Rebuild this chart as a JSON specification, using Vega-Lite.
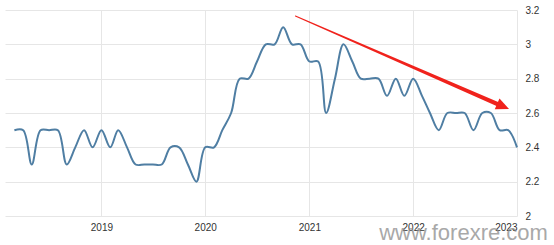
{
  "$schema": "https://vega.github.io/schema/vega-lite/v6.json",
  "width": 512,
  "height": 206,
  "autosize": {"type": "none"},
  "padding": {"left": 5, "top": 10, "right": 37, "bottom": 29},
  "background": "white",
  "config": {
    "view": {"stroke": null},
    "axis": {"labelFont": "Liberation Sans", "labelFontSize": 10, "labelColor": "#333333", "gridColor": "#e6e6e6", "gridWidth": 1, "domain": false, "ticks": false, "title": null}
  },
  "datasets": {
    "series": [
      {"date": "2018-03-01", "value": 2.5},
      {"date": "2018-04-01", "value": 2.5},
      {"date": "2018-05-01", "value": 2.3},
      {"date": "2018-06-01", "value": 2.5},
      {"date": "2018-07-01", "value": 2.5},
      {"date": "2018-08-01", "value": 2.5},
      {"date": "2018-09-01", "value": 2.3},
      {"date": "2018-10-01", "value": 2.4},
      {"date": "2018-11-01", "value": 2.5},
      {"date": "2018-12-01", "value": 2.4},
      {"date": "2019-01-01", "value": 2.5},
      {"date": "2019-02-01", "value": 2.4},
      {"date": "2019-03-01", "value": 2.5},
      {"date": "2019-04-01", "value": 2.4},
      {"date": "2019-05-01", "value": 2.3},
      {"date": "2019-06-01", "value": 2.3},
      {"date": "2019-07-01", "value": 2.3},
      {"date": "2019-08-01", "value": 2.3},
      {"date": "2019-09-01", "value": 2.4},
      {"date": "2019-10-01", "value": 2.4},
      {"date": "2019-11-01", "value": 2.3},
      {"date": "2019-12-01", "value": 2.2},
      {"date": "2020-01-01", "value": 2.4},
      {"date": "2020-02-01", "value": 2.4},
      {"date": "2020-03-01", "value": 2.5},
      {"date": "2020-04-01", "value": 2.6},
      {"date": "2020-05-01", "value": 2.8},
      {"date": "2020-06-01", "value": 2.8},
      {"date": "2020-07-01", "value": 2.9},
      {"date": "2020-08-01", "value": 3.0},
      {"date": "2020-09-01", "value": 3.0},
      {"date": "2020-10-01", "value": 3.1},
      {"date": "2020-11-01", "value": 3.0},
      {"date": "2020-12-01", "value": 3.0},
      {"date": "2021-01-01", "value": 2.9},
      {"date": "2021-02-01", "value": 2.9},
      {"date": "2021-03-01", "value": 2.6},
      {"date": "2021-04-01", "value": 2.8},
      {"date": "2021-05-01", "value": 3.0},
      {"date": "2021-06-01", "value": 2.9},
      {"date": "2021-07-01", "value": 2.8},
      {"date": "2021-08-01", "value": 2.8},
      {"date": "2021-09-01", "value": 2.8},
      {"date": "2021-10-01", "value": 2.7},
      {"date": "2021-11-01", "value": 2.8},
      {"date": "2021-12-01", "value": 2.7},
      {"date": "2022-01-01", "value": 2.8},
      {"date": "2022-02-01", "value": 2.7},
      {"date": "2022-03-01", "value": 2.6},
      {"date": "2022-04-01", "value": 2.5},
      {"date": "2022-05-01", "value": 2.6},
      {"date": "2022-06-01", "value": 2.6},
      {"date": "2022-07-01", "value": 2.6},
      {"date": "2022-08-01", "value": 2.5},
      {"date": "2022-09-01", "value": 2.6},
      {"date": "2022-10-01", "value": 2.6},
      {"date": "2022-11-01", "value": 2.5},
      {"date": "2022-12-01", "value": 2.5},
      {"date": "2023-01-01", "value": 2.4}
    ],
    "arrow": [
      {"date": "2020-11-13", "value": 3.165, "end": "tail"},
      {"date": "2022-11-13", "value": 2.638, "end": "head"}
    ],
    "arrowhead": [
      {"date": "2022-11-13", "value": 2.638}
    ],
    "watermark": [
      {"label": "www.forexre.com"}
    ]
  },
  "layer": [
    {
      "data": {"name": "series"},
      "mark": {"type": "line", "interpolate": "catmull-rom", "color": "#4f7ea3", "strokeWidth": 2},
      "encoding": {
        "x": {
          "field": "date", "type": "temporal",
          "scale": {"type": "utc", "domain": [{"year": 2018, "month": 1, "date": 27, "utc": true}, {"year": 2023, "month": 1, "date": 1, "utc": true}]},
          "axis": {
            "values": [{"year": 2019, "utc": true}, {"year": 2020, "utc": true}, {"year": 2021, "utc": true}, {"year": 2022, "utc": true}, {"year": 2023, "utc": true}],
            "format": "%Y", "formatType": "utc", "labelPadding": 6, "grid": true, "tickCount": 20
          }
        },
        "y": {
          "field": "value", "type": "quantitative",
          "scale": {"domain": [2, 3.2], "nice": false, "zero": false},
          "axis": {"orient": "right", "values": [2, 2.2, 2.4, 2.6, 2.8, 3, 3.2], "tickCount": 20, "labelOverlap": false, "format": "~g", "labelPadding": 8, "grid": true}
        }
      }
    },
    {
      "data": {"name": "arrow"},
      "mark": {"type": "trail", "color": "#f0221c"},
      "encoding": {
        "x": {"field": "date", "type": "temporal"},
        "y": {"field": "value", "type": "quantitative"},
        "size": {"field": "end", "type": "ordinal", "scale": {"domain": ["tail", "head"], "range": [1, 4.5]}, "legend": null}
      }
    },
    {
      "data": {"name": "arrowhead"},
      "mark": {"type": "point", "shape": "M-1,-0.9L1,0L-1,0.9Z", "filled": true, "color": "#f0221c", "opacity": 1, "size": 169, "angle": 24},
      "encoding": {
        "x": {"field": "date", "type": "temporal"},
        "y": {"field": "value", "type": "quantitative"}
      }
    },
    {
      "data": {"name": "watermark"},
      "mark": {"type": "text", "font": "Liberation Sans", "fontSize": 22, "color": "#8c8c8c", "opacity": 0.75, "align": "center", "baseline": "alphabetic"},
      "encoding": {
        "text": {"field": "label", "type": "nominal"},
        "x": {"datum": {"year": 2022, "month": 6, "date": 27, "utc": true}, "type": "temporal"},
        "y": {"datum": 1.86, "type": "quantitative"}
      }
    }
  ]
}
